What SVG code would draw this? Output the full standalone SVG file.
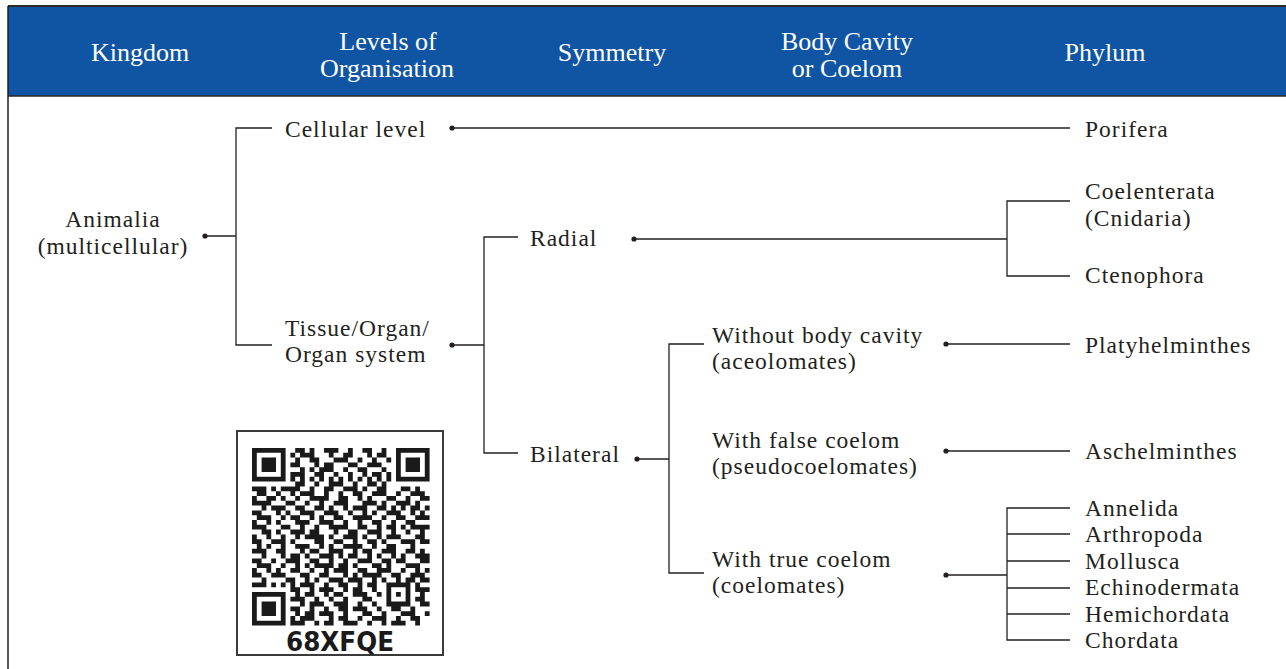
<svg xmlns="http://www.w3.org/2000/svg" width="1286" height="669" viewBox="0 0 1286 669">
<style>
.h{font-family:"Liberation Serif","Times New Roman",serif;font-size:26px;fill:#ffffff;text-anchor:middle}
.t{font-family:"Liberation Serif","Times New Roman",serif;font-size:23.5px;letter-spacing:1px;fill:#231f20}
.c{text-anchor:middle}
.ln{stroke:#231f20;stroke-width:1.3;fill:none}
.dot{fill:#231f20}
</style>
<rect x="0" y="0" width="1286" height="669" fill="#ffffff"/>
<g id="frame">
<rect x="8" y="6" width="1280" height="90" fill="#0f55a4"/>
<line x1="8" y1="6" x2="1286" y2="6" stroke="#2b2a2b" stroke-width="2"/>
<line x1="8" y1="96" x2="1286" y2="96" stroke="#2b2a2b" stroke-width="1.5"/>
<line x1="8" y1="6" x2="8" y2="669" stroke="#231f20" stroke-width="1.5"/>
</g>
<g id="header">
<text class="h" x="140" y="61">Kingdom</text>
<text class="h" x="388" y="50">Levels of<tspan x="387" dy="27">Organisation</tspan></text>
<text class="h" x="612" y="61">Symmetry</text>
<text class="h" x="847" y="50">Body Cavity<tspan x="847" dy="27">or Coelom</tspan></text>
<text class="h" x="1105" y="61">Phylum</text>
</g>
<g id="connectors">
<path class="ln" d="M205 236H236M272 128H236V345H272"/>
<path class="ln" d="M452 128H1070"/>
<path class="ln" d="M452 345H484M518 237H484V453H518"/>
<path class="ln" d="M634 239H1007M1070 201H1007V276H1070"/>
<path class="ln" d="M637 459H669M704 344H669V573H704"/>
<path class="ln" d="M946 344H1070"/>
<path class="ln" d="M946 451H1070"/>
<path class="ln" d="M946 575H1007M1070 508H1007V640H1070M1007 534H1070M1007 561H1070M1007 588H1070M1007 614H1070"/>
<g class="dot">
<circle cx="205" cy="236" r="2.6"/>
<circle cx="452" cy="128" r="2.6"/>
<circle cx="452" cy="345" r="2.6"/>
<circle cx="634" cy="239" r="2.6"/>
<circle cx="637" cy="459" r="2.6"/>
<circle cx="946" cy="344" r="2.6"/>
<circle cx="946" cy="451" r="2.6"/>
<circle cx="946" cy="575" r="2.6"/>
</g>
</g>
<g id="n-animalia"><text class="t c" x="113" y="227">Animalia<tspan x="113" dy="27">(multicellular)</tspan></text></g>
<g id="n-cellular"><text class="t" x="285" y="137">Cellular level</text></g>
<g id="n-tissue"><text class="t" x="285" y="335.5">Tissue/Organ/<tspan x="285" dy="26.5">Organ system</tspan></text></g>
<g id="n-radial"><text class="t" x="530" y="246">Radial</text></g>
<g id="n-bilateral"><text class="t" x="530" y="462">Bilateral</text></g>
<g id="n-acoel"><text class="t" x="712" y="342.5">Without body cavity<tspan x="712" dy="26.5">(aceolomates)</tspan></text></g>
<g id="n-pseudo"><text class="t" x="712" y="447.5">With false coelom<tspan x="712" dy="26.5">(pseudocoelomates)</tspan></text></g>
<g id="n-coel"><text class="t" x="712" y="566.5">With true coelom<tspan x="712" dy="26.5">(coelomates)</tspan></text></g>
<g id="n-porifera"><text class="t" x="1085" y="137">Porifera</text></g>
<g id="n-coelenterata"><text class="t" x="1085" y="199">Coelenterata<tspan x="1085" dy="27">(Cnidaria)</tspan></text></g>
<g id="n-ctenophora"><text class="t" x="1085" y="283">Ctenophora</text></g>
<g id="n-platy"><text class="t" x="1085" y="353">Platyhelminthes</text></g>
<g id="n-aschel"><text class="t" x="1085" y="459">Aschelminthes</text></g>
<g id="n-phyla"><text class="t" x="1085" y="516">Annelida<tspan x="1085" y="542.4">Arthropoda</tspan><tspan x="1085" y="568.8">Mollusca</tspan><tspan x="1085" y="595.2">Echinodermata</tspan><tspan x="1085" y="621.6">Hemichordata</tspan><tspan x="1085" y="648">Chordata</tspan></text></g>
<g id="qr">
<rect x="237" y="431" width="206" height="224" fill="#ffffff" stroke="#3a3a3a" stroke-width="2"/>
<path fill="#1a1a1a" transform="translate(252 448) scale(4.8)" d="
M0 0h7v1h-7zM9 0h2v1h-2zM12 0h1v1h-1zM15 0h3v1h-3zM20 0h1v1h-1zM23 0h2v1h-2zM27 0h1v1h-1zM30 0h7v1h-7z
M0 1h1v1h-1zM6 1h1v1h-1zM8 1h1v1h-1zM10 1h3v1h-3zM16 1h1v1h-1zM19 1h2v1h-2zM24 1h1v1h-1zM26 1h2v1h-2zM30 1h1v1h-1zM36 1h1v1h-1z
M0 2h1v1h-1zM2 2h3v1h-3zM6 2h1v1h-1zM9 2h1v1h-1zM12 2h2v1h-2zM17 2h3v1h-3zM22 2h1v1h-1zM25 2h1v1h-1zM28 2h1v1h-1zM30 2h1v1h-1zM32 2h3v1h-3zM36 2h1v1h-1z
M0 3h1v1h-1zM2 3h3v1h-3zM6 3h1v1h-1zM8 3h2v1h-2zM13 3h1v1h-1zM15 3h2v1h-2zM20 3h2v1h-2zM24 3h3v1h-3zM30 3h1v1h-1zM32 3h3v1h-3zM36 3h1v1h-1z
M0 4h1v1h-1zM2 4h3v1h-3zM6 4h1v1h-1zM10 4h1v1h-1zM12 4h1v1h-1zM14 4h3v1h-3zM19 4h1v1h-1zM22 4h2v1h-2zM27 4h1v1h-1zM30 4h1v1h-1zM32 4h3v1h-3zM36 4h1v1h-1z
M0 5h1v1h-1zM6 5h1v1h-1zM8 5h3v1h-3zM13 5h2v1h-2zM17 5h1v1h-1zM20 5h1v1h-1zM23 5h1v1h-1zM25 5h2v1h-2zM28 5h1v1h-1zM30 5h1v1h-1zM36 5h1v1h-1z
M0 6h7v1h-7zM8 6h1v1h-1zM10 6h1v1h-1zM12 6h1v1h-1zM14 6h1v1h-1zM16 6h1v1h-1zM18 6h1v1h-1zM20 6h1v1h-1zM22 6h1v1h-1zM24 6h1v1h-1zM26 6h1v1h-1zM28 6h1v1h-1zM30 6h7v1h-7z
M9 7h2v1h-2zM13 7h1v1h-1zM16 7h3v1h-3zM21 7h1v1h-1zM24 7h2v1h-2zM27 7h1v1h-1z
M0 8h3v1h-3zM4 8h1v1h-1zM6 8h4v1h-4zM12 8h1v1h-1zM15 8h2v1h-2zM19 8h3v1h-3zM23 8h1v1h-1zM26 8h2v1h-2zM31 8h2v1h-2zM34 8h1v1h-1z
M1 9h2v1h-2zM5 9h1v1h-1zM8 9h1v1h-1zM10 9h3v1h-3zM15 9h1v1h-1zM18 9h1v1h-1zM21 9h2v1h-2zM25 9h3v1h-3zM30 9h1v1h-1zM33 9h3v1h-3z
M0 10h1v1h-1zM3 10h2v1h-2zM6 10h1v1h-1zM9 10h1v1h-1zM12 10h4v1h-4zM18 10h2v1h-2zM22 10h1v1h-1zM24 10h1v1h-1zM28 10h2v1h-2zM32 10h1v1h-1zM35 10h2v1h-2z
M0 11h4v1h-4zM7 11h2v1h-2zM11 11h1v1h-1zM14 11h1v1h-1zM17 11h3v1h-3zM23 11h3v1h-3zM27 11h1v1h-1zM30 11h3v1h-3zM34 11h1v1h-1z
M2 12h1v1h-1zM4 12h3v1h-3zM9 12h2v1h-2zM13 12h2v1h-2zM16 12h1v1h-1zM19 12h1v1h-1zM21 12h3v1h-3zM26 12h2v1h-2zM29 12h1v1h-1zM31 12h1v1h-1zM33 12h2v1h-2zM36 12h1v1h-1z
M0 13h2v1h-2zM5 13h1v1h-1zM7 13h1v1h-1zM10 13h3v1h-3zM15 13h3v1h-3zM20 13h1v1h-1zM23 13h1v1h-1zM25 13h1v1h-1zM28 13h3v1h-3zM33 13h1v1h-1zM35 13h1v1h-1z
M1 14h3v1h-3zM6 14h1v1h-1zM8 14h2v1h-2zM12 14h1v1h-1zM14 14h1v1h-1zM17 14h2v1h-2zM21 14h4v1h-4zM27 14h1v1h-1zM30 14h2v1h-2zM34 14h3v1h-3z
M0 15h1v1h-1zM3 15h1v1h-1zM5 15h1v1h-1zM9 15h3v1h-3zM14 15h3v1h-3zM19 15h1v1h-1zM22 15h1v1h-1zM25 15h2v1h-2zM29 15h1v1h-1zM32 15h2v1h-2z
M0 16h3v1h-3zM6 16h2v1h-2zM10 16h1v1h-1zM13 16h1v1h-1zM16 16h4v1h-4zM22 16h2v1h-2zM26 16h1v1h-1zM28 16h2v1h-2zM31 16h1v1h-1zM33 16h4v1h-4z
M2 17h2v1h-2zM5 17h1v1h-1zM8 17h3v1h-3zM12 17h2v1h-2zM17 17h1v1h-1zM20 17h2v1h-2zM24 17h3v1h-3zM29 17h1v1h-1zM32 17h1v1h-1zM35 17h1v1h-1z
M0 18h1v1h-1zM3 18h1v1h-1zM6 18h1v1h-1zM9 18h1v1h-1zM11 18h4v1h-4zM16 18h1v1h-1zM19 18h3v1h-3zM23 18h1v1h-1zM26 18h1v1h-1zM28 18h3v1h-3zM34 18h2v1h-2z
M0 19h2v1h-2zM4 19h3v1h-3zM8 19h1v1h-1zM13 19h2v1h-2zM17 19h2v1h-2zM21 19h1v1h-1zM24 19h2v1h-2zM27 19h1v1h-1zM31 19h3v1h-3zM35 19h2v1h-2z
M1 20h1v1h-1zM3 20h1v1h-1zM6 20h1v1h-1zM9 20h3v1h-3zM14 20h1v1h-1zM16 20h1v1h-1zM19 20h4v1h-4zM25 20h1v1h-1zM28 20h2v1h-2zM33 20h1v1h-1z
M0 21h3v1h-3zM5 21h2v1h-2zM10 21h1v1h-1zM12 21h2v1h-2zM16 21h3v1h-3zM21 21h1v1h-1zM23 21h2v1h-2zM27 21h3v1h-3zM32 21h2v1h-2zM35 21h1v1h-1z
M2 22h1v1h-1zM6 22h1v1h-1zM8 22h2v1h-2zM11 22h1v1h-1zM14 22h3v1h-3zM18 22h1v1h-1zM20 22h2v1h-2zM24 22h1v1h-1zM26 22h1v1h-1zM29 22h1v1h-1zM31 22h1v1h-1zM34 22h3v1h-3z
M0 23h2v1h-2zM4 23h1v1h-1zM7 23h3v1h-3zM12 23h2v1h-2zM16 23h1v1h-1zM19 23h1v1h-1zM22 23h3v1h-3zM27 23h2v1h-2zM30 23h2v1h-2zM35 23h2v1h-2z
M1 24h3v1h-3zM6 24h1v1h-1zM9 24h1v1h-1zM11 24h1v1h-1zM13 24h4v1h-4zM18 24h2v1h-2zM21 24h1v1h-1zM25 24h2v1h-2zM28 24h1v1h-1zM32 24h3v1h-3z
M0 25h1v1h-1zM3 25h1v1h-1zM5 25h1v1h-1zM8 25h2v1h-2zM12 25h1v1h-1zM15 25h1v1h-1zM17 25h3v1h-3zM22 25h2v1h-2zM26 25h3v1h-3zM31 25h1v1h-1zM34 25h1v1h-1zM36 25h1v1h-1z
M0 26h2v1h-2zM4 26h3v1h-3zM10 26h2v1h-2zM14 26h2v1h-2zM19 26h1v1h-1zM21 26h1v1h-1zM23 26h4v1h-4zM29 26h2v1h-2zM33 26h3v1h-3z
M2 27h1v1h-1zM7 27h2v1h-2zM11 27h1v1h-1zM13 27h1v1h-1zM16 27h3v1h-3zM20 27h3v1h-3zM25 27h1v1h-1zM27 27h1v1h-1zM30 27h1v1h-1zM32 27h2v1h-2zM35 27h2v1h-2z
M0 28h3v1h-3zM4 28h1v1h-1zM6 28h1v1h-1zM8 28h1v1h-1zM10 28h3v1h-3zM15 28h1v1h-1zM18 28h2v1h-2zM22 28h1v1h-1zM24 28h2v1h-2zM28 28h5v1h-5zM34 28h1v1h-1z
M8 29h2v1h-2zM12 29h1v1h-1zM14 29h3v1h-3zM19 29h1v1h-1zM21 29h2v1h-2zM25 29h1v1h-1zM28 29h1v1h-1zM32 29h1v1h-1zM34 29h3v1h-3z
M0 30h7v1h-7zM9 30h1v1h-1zM11 30h2v1h-2zM15 30h1v1h-1zM17 30h2v1h-2zM21 30h3v1h-3zM26 30h1v1h-1zM28 30h1v1h-1zM30 30h1v1h-1zM32 30h1v1h-1zM35 30h1v1h-1z
M0 31h1v1h-1zM6 31h1v1h-1zM8 31h3v1h-3zM13 31h1v1h-1zM16 31h1v1h-1zM19 31h1v1h-1zM23 31h2v1h-2zM28 31h1v1h-1zM32 31h1v1h-1zM34 31h2v1h-2z
M0 32h1v1h-1zM2 32h3v1h-3zM6 32h1v1h-1zM10 32h1v1h-1zM12 32h3v1h-3zM17 32h3v1h-3zM22 32h1v1h-1zM25 32h1v1h-1zM28 32h5v1h-5zM35 32h2v1h-2z
M0 33h1v1h-1zM2 33h3v1h-3zM6 33h1v1h-1zM8 33h2v1h-2zM12 33h1v1h-1zM15 33h1v1h-1zM18 33h2v1h-2zM21 33h3v1h-3zM26 33h1v1h-1zM29 33h2v1h-2zM33 33h1v1h-1z
M0 34h1v1h-1zM2 34h3v1h-3zM6 34h1v1h-1zM9 34h1v1h-1zM11 34h2v1h-2zM14 34h3v1h-3zM19 34h1v1h-1zM23 34h2v1h-2zM27 34h1v1h-1zM31 34h3v1h-3zM36 34h1v1h-1z
M0 35h1v1h-1zM6 35h1v1h-1zM8 35h1v1h-1zM10 35h3v1h-3zM16 35h1v1h-1zM18 35h2v1h-2zM22 35h1v1h-1zM25 35h3v1h-3zM30 35h1v1h-1zM33 35h2v1h-2z
M0 36h7v1h-7zM8 36h3v1h-3zM13 36h1v1h-1zM15 36h2v1h-2zM19 36h3v1h-3zM24 36h1v1h-1zM27 36h1v1h-1zM29 36h3v1h-3zM34 36h1v1h-1z"/>
<text x="340" y="651" font-family="'DejaVu Sans Condensed','DejaVu Sans',sans-serif" font-weight="bold" font-size="27" fill="#1a1a1a" text-anchor="middle" textLength="108" lengthAdjust="spacingAndGlyphs">68XFQE</text>
</g>
</svg>
